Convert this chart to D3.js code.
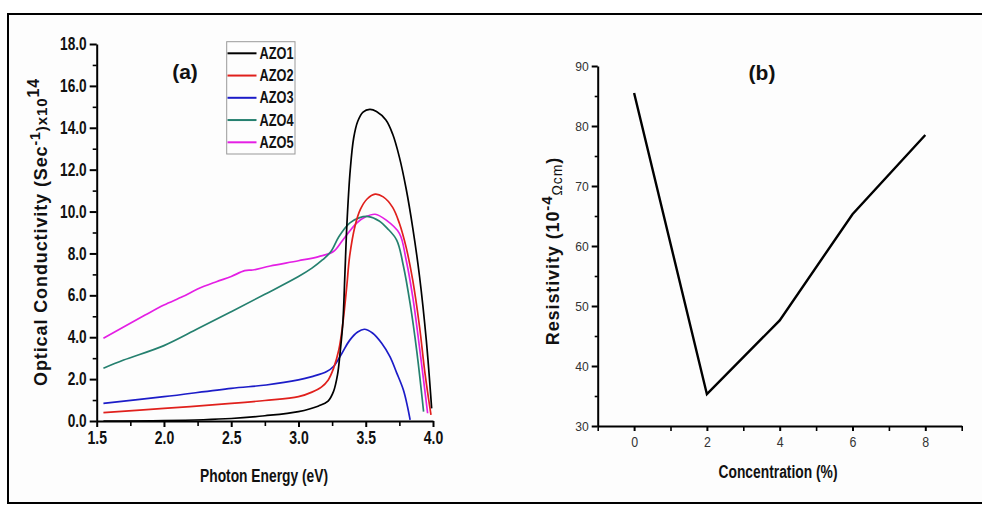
<!DOCTYPE html>
<html>
<head>
<meta charset="utf-8">
<script src="https://cdn.jsdelivr.net/npm/d3@7/dist/d3.min.js"></script>
<style>
  html, body { margin: 0; padding: 0; background: #ffffff; }
  svg { display: block; }
</style>
</head>
<body>
<svg id="fig" width="982" height="506"></svg>
<script>
// ---- Panel (a): optical conductivity vs photon energy ----
const seriesNames = ["AZO1", "AZO2", "AZO3", "AZO4", "AZO5"];
const seriesColors = ["#000000", "#e0201c", "#1c1cc8", "#25806f", "#e41fe4"];

const azo1E = [1.55, 2.0, 2.5, 2.75, 3.0, 3.15, 3.22, 3.26, 3.29, 3.31, 3.33, 3.345, 3.36, 3.385, 3.41, 3.44, 3.48, 3.53, 3.58, 3.65, 3.70, 3.75, 3.80, 3.85, 3.90, 3.95, 3.99];
const azo1V = [0.0, 0.02, 0.12, 0.25, 0.45, 0.72, 0.95, 1.4, 2.2, 3.3, 4.7, 7.0, 9.4, 12.0, 13.5, 14.3, 14.75, 14.88, 14.78, 14.37, 13.7, 12.6, 11.1, 9.2, 6.9, 3.87, 0.6];

const azo2E = [1.55, 2.0, 2.5, 2.75, 3.0, 3.1, 3.17, 3.22, 3.26, 3.30, 3.33, 3.36, 3.38, 3.42, 3.46, 3.51, 3.57, 3.63, 3.70, 3.75, 3.80, 3.85, 3.90, 3.94, 3.985];
const azo2V = [0.40, 0.60, 0.84, 0.98, 1.16, 1.38, 1.62, 1.95, 2.5, 3.4, 4.67, 6.5, 7.85, 9.3, 10.1, 10.6, 10.83, 10.7, 10.2, 9.44, 8.3, 6.7, 4.5, 2.3, 0.29];

const azo3E = [1.55, 2.0, 2.5, 2.76, 3.0, 3.1, 3.21, 3.26, 3.32, 3.38, 3.44, 3.49, 3.55, 3.62, 3.68, 3.73, 3.78, 3.81, 3.83];
const azo3V = [0.84, 1.16, 1.56, 1.72, 1.96, 2.12, 2.36, 2.6, 3.2, 3.85, 4.25, 4.38, 4.2, 3.7, 3.07, 2.3, 1.48, 0.7, 0.05];

const azo4E = [1.55, 1.70, 2.0, 2.25, 2.5, 2.75, 3.0, 3.1, 3.18, 3.24, 3.30, 3.38, 3.45, 3.52, 3.60, 3.66, 3.73, 3.78, 3.83, 3.88, 3.93];
const azo4V = [2.52, 2.91, 3.6, 4.4, 5.22, 6.05, 6.9, 7.3, 7.7, 8.08, 8.8, 9.45, 9.7, 9.76, 9.55, 9.2, 8.64, 7.4, 5.6, 3.3, 0.45];

const azo5E = [1.55, 1.86, 2.0, 2.14, 2.25, 2.39, 2.5, 2.60, 2.66, 2.79, 3.0, 3.15, 3.26, 3.33, 3.43, 3.50, 3.57, 3.65, 3.75, 3.80, 3.85, 3.90, 3.96];
const azo5V = [3.95, 5.06, 5.54, 5.94, 6.3, 6.65, 6.9, 7.18, 7.21, 7.40, 7.65, 7.85, 8.09, 8.64, 9.44, 9.75, 9.87, 9.6, 8.96, 7.7, 5.9, 3.5, 0.37];

const energyTicks = [1.5, 2.0, 2.5, 3.0, 3.5, 4.0];
const energyMinor = [1.75, 2.25, 2.75, 3.25, 3.75];
const condTicks = [0, 2, 4, 6, 8, 10, 12, 14, 16, 18];
const condMinor = [1, 3, 5, 7, 9, 11, 13, 15, 17];

// ---- Panel (b): resistivity vs concentration ----
const concentration = [0, 2, 4, 6, 8];
const resistivity = [85.5, 35.3, 47.6, 65.3, 78.5];
const concTicks = [0, 2, 4, 6, 8];
const concMinor = [-1, 1, 3, 5, 7, 9];
const resTicks = [30, 40, 50, 60, 70, 80, 90];
const resMinor = [35, 45, 55, 65, 75, 85];

const svg = d3.select("#fig");
const W = 982, H = 506;

svg.append("rect").attr("x", 0).attr("y", 0).attr("width", W).attr("height", H).attr("fill", "#ffffff");
svg.append("rect").attr("x", 8).attr("y", 14).attr("width", 990).attr("height", 489)
  .attr("fill", "#fdfdfd").attr("stroke", "#000").attr("stroke-width", 2);

const sans = "'Liberation Sans', Arial, sans-serif";

// squeeze a text element to a condensed width, like a narrow typeface
function condense(sel, factor) {
  sel.each(function () {
    const t = d3.select(this);
    const w = this.getComputedTextLength();
    t.attr("textLength", (w * factor).toFixed(1)).attr("lengthAdjust", "spacingAndGlyphs");
  });
}

// ===== Panel (a) =====
const xA = d3.scaleLinear().domain([1.5, 4.0]).range([96.7, 433]);
const yA = d3.scaleLinear().domain([0, 18]).range([421, 44]);
const gA = svg.append("g");

function styleAxis(g, width) {
  g.selectAll(".domain").attr("stroke", "#000").attr("stroke-width", width);
  g.selectAll(".tick line").attr("stroke", "#000").attr("stroke-width", width);
}

// minor ticks
gA.append("g").attr("transform", "translate(0,421)")
  .call(d3.axisBottom(xA).tickValues(energyMinor).tickSize(5).tickFormat("").tickSizeOuter(0))
  .call(g => { g.select(".domain").remove(); styleAxis(g, 1.6); });
gA.append("g").attr("transform", "translate(96.7,0)")
  .call(d3.axisLeft(yA).tickValues(condMinor).tickSize(4).tickFormat("").tickSizeOuter(0))
  .call(g => { g.select(".domain").remove(); styleAxis(g, 1.6); });

// major ticks
const axAx = gA.append("g").attr("transform", "translate(0,421)")
  .call(d3.axisBottom(xA).tickValues(energyTicks).tickSize(6).tickPadding(5).tickFormat(d3.format(".1f")).tickSizeOuter(0));
styleAxis(axAx, 2);
axAx.selectAll("text").attr("font-family", sans).attr("font-weight", "bold")
  .attr("font-size", 17.5).attr("fill", "#111").call(condense, 0.8);

const axAy = gA.append("g").attr("transform", "translate(96.7,0)")
  .call(d3.axisLeft(yA).tickValues(condTicks).tickSize(7).tickPadding(3).tickFormat(d3.format(".1f")).tickSizeOuter(0));
styleAxis(axAy, 2);
axAy.selectAll("text").attr("font-family", sans).attr("font-weight", "bold")
  .attr("font-size", 17.5).attr("fill", "#111").call(condense, 0.78);

// curves
const seriesE = [azo1E, azo2E, azo3E, azo4E, azo5E];
const seriesV = [azo1V, azo2V, azo3V, azo4V, azo5V];
const lineA = d3.line().x(d => xA(d[0])).y(d => yA(d[1])).curve(d3.curveCatmullRom.alpha(0.5));
// draw order: AZO5, AZO4, AZO3, AZO2, AZO1 so black stays on top
[4, 3, 2, 1, 0].forEach(i => {
  const pts = seriesE[i].map((e, k) => [e, seriesV[i][k]]);
  gA.append("path").datum(pts).attr("d", lineA)
    .attr("fill", "none").attr("stroke", seriesColors[i]).attr("stroke-width", 1.7)
    .attr("stroke-linejoin", "round");
});

// legend
const leg = gA.append("g");
leg.append("rect").attr("x", 226.7).attr("y", 41.7).attr("width", 68.3).attr("height", 112.3)
  .attr("fill", "#fdfdfd").attr("stroke", "#999").attr("stroke-width", 1);
seriesNames.forEach((name, i) => {
  const yy = 53.3 + i * 22.25;
  leg.append("line").attr("x1", 227.5).attr("x2", 256.5).attr("y1", yy).attr("y2", yy)
    .attr("stroke", seriesColors[i]).attr("stroke-width", 2);
  leg.append("text").attr("x", 259.5).attr("y", yy + 5.5).text(name)
    .attr("font-family", sans).attr("font-weight", "bold").attr("font-size", 16).attr("fill", "#111")
    .attr("textLength", 34).attr("lengthAdjust", "spacingAndGlyphs");
});

gA.append("text").attr("x", 185).attr("y", 79).attr("text-anchor", "middle").text("(a)")
  .attr("font-family", sans).attr("font-weight", "bold").attr("font-size", 21).attr("fill", "#111");

gA.append("text").attr("x", 264).attr("y", 482).attr("text-anchor", "middle").text("Photon Energy (eV)")
  .attr("font-family", sans).attr("font-weight", "bold").attr("font-size", 18).attr("fill", "#111")
  .attr("textLength", 128).attr("lengthAdjust", "spacingAndGlyphs");

const yLabA = gA.append("text").attr("transform", "translate(47,232) rotate(-90)")
  .attr("text-anchor", "middle").attr("font-family", sans)
  .attr("font-weight", "bold").attr("font-size", 18).attr("fill", "#111")
  .attr("letter-spacing", 0.9);
yLabA.append("tspan").text("Optical Conductivity (Sec");
yLabA.append("tspan").attr("dy", -7).attr("font-size", 14).text("-1");
yLabA.append("tspan").attr("dy", 7).attr("font-size", 15).text(")x10");
yLabA.append("tspan").attr("dy", -8).attr("font-size", 16).text("14");

// ===== Panel (b) =====
const xB = d3.scaleLinear().domain([-1, 9]).range([597.7, 961.7]);
const yB = d3.scaleLinear().domain([30, 90]).range([426, 66]);
const gB = svg.append("g");

gB.append("g").attr("transform", "translate(0,426)")
  .call(d3.axisBottom(xB).tickValues(concMinor).tickSize(5).tickFormat("").tickSizeOuter(0))
  .call(g => { g.select(".domain").remove(); styleAxis(g, 1.6); });
gB.append("g").attr("transform", "translate(597.7,0)")
  .call(d3.axisLeft(yB).tickValues(resMinor).tickSize(3).tickFormat("").tickSizeOuter(0))
  .call(g => { g.select(".domain").remove(); styleAxis(g, 1.6); });

const axBx = gB.append("g").attr("transform", "translate(0,426)")
  .call(d3.axisBottom(xB).tickValues(concTicks).tickSize(5).tickPadding(6).tickFormat(d3.format("d")).tickSizeOuter(0));
styleAxis(axBx, 2);
axBx.selectAll("text").attr("font-family", sans).attr("font-size", 14).attr("fill", "#333").call(condense, 0.88);

const axBy = gB.append("g").attr("transform", "translate(597.7,0)")
  .call(d3.axisLeft(yB).tickValues(resTicks).tickSize(6).tickPadding(3).tickFormat(d3.format("d")).tickSizeOuter(0));
styleAxis(axBy, 2);
axBy.selectAll("text").attr("font-family", sans).attr("font-size", 13.5).attr("fill", "#333").call(condense, 0.9);

const lineB = d3.line().x((d, i) => xB(concentration[i])).y(d => yB(d));
gB.append("path").datum(resistivity).attr("d", lineB)
  .attr("fill", "none").attr("stroke", "#000").attr("stroke-width", 2.4).attr("stroke-linejoin", "miter");

gB.append("text").attr("x", 762).attr("y", 80).attr("text-anchor", "middle").text("(b)")
  .attr("font-family", sans).attr("font-weight", "bold").attr("font-size", 21).attr("fill", "#111");

gB.append("text").attr("x", 778).attr("y", 478).attr("text-anchor", "middle").text("Concentration (%)")
  .attr("font-family", sans).attr("font-weight", "bold").attr("font-size", 18).attr("fill", "#111")
  .attr("textLength", 119).attr("lengthAdjust", "spacingAndGlyphs");

const yLabB = gB.append("text").attr("transform", "translate(559,251) rotate(-90)")
  .attr("text-anchor", "middle").attr("font-family", sans)
  .attr("font-weight", "bold").attr("font-size", 18).attr("fill", "#111")
  .attr("letter-spacing", 0.9);
yLabB.append("tspan").text("Resistivity (10");
yLabB.append("tspan").attr("dy", -7).attr("font-size", 15).text("-4");
yLabB.append("tspan").attr("dy", 10).attr("font-size", 14).attr("font-weight", "normal").text("\u03A9cm");
yLabB.append("tspan").attr("dy", -3).text(")");
</script>
</body>
</html>
